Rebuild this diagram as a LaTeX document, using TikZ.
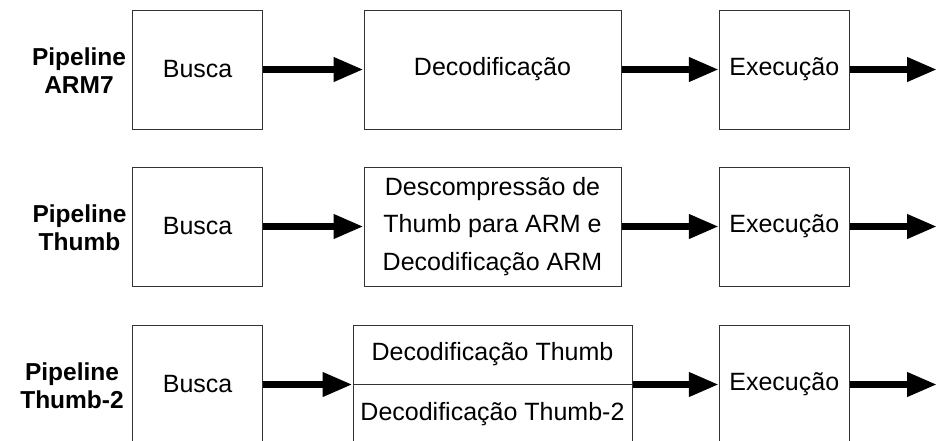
\documentclass[tikz,border=0pt]{standalone}
\usepackage{fontspec}
\setmainfont{Liberation Sans}
\usetikzlibrary{arrows.meta}

\begin{document}
\begin{tikzpicture}[x=1pt,y=-1pt,
    stage/.style={draw=black!80,line width=1pt,inner sep=0pt,minimum height=119pt,align=center,font=\fontsize{25}{37.5}\selectfont},
    pipename/.style={align=center,inner sep=0pt,font=\bfseries\fontsize{24.5}{28}\selectfont},
    stagetext/.style={inner sep=0pt,font=\fontsize{25}{30}\selectfont},
    flow/.style={line width=7pt,-{Triangle[length=30pt,width=23pt]}}]
                \useasboundingbox (0,0) rectangle (938,440);
                \node[pipename] (p1) at (79,71) {Pipeline\\ARM7};
                \node[stage,minimum width=130pt] (busca1) at (197.6,69.5) {Busca};
                \node[stage,minimum width=257pt] (dec1) at (492.5,69.5) {Decodificação};
                \node[stage,minimum width=130pt] (exec1) at (784.3,69.5) {Execução};
                \coordinate (out1) at (937,69.5);
                \draw[flow] (busca1) -- (dec1);
                \draw[flow] (dec1) -- (exec1);
                \draw[flow] (exec1) -- (out1);
                \node[pipename] (p2) at (79.5,228) {Pipeline\\Thumb};
                \node[stage,minimum width=130pt] (busca2) at (197.6,226.5) {Busca};
                \node[stage,minimum width=257pt] (dec2) at (492.5,226.5) {Descompressão de\\Thumb para ARM e\\Decodificação ARM};
                \node[stage,minimum width=130pt] (exec2) at (784.3,226.5) {Execução};
                \coordinate (out2) at (937,226.5);
                \draw[flow] (busca2) -- (dec2);
                \draw[flow] (dec2) -- (exec2);
                \draw[flow] (exec2) -- (out2);
                \node[pipename] (p3) at (72,386) {Pipeline\\Thumb-2};
                \node[stage,minimum width=130pt] (busca3) at (197.6,384.5) {Busca};
                \node[stage,minimum width=279pt] (dec3) at (492.5,384.5) {};
                \draw[black!80,line width=1pt] (dec3.west) -- (dec3.east);
                \node[stagetext] (dec3a) at (492.5,354.5) {Decodificação Thumb};
                \node[stagetext] (dec3b) at (492.5,414) {Decodificação Thumb-2};
                \node[stage,minimum width=130pt] (exec3) at (784.3,384.5) {Execução};
                \coordinate (out3) at (937,384.5);
                \draw[flow] (busca3) -- (dec3);
                \draw[flow] (dec3) -- (exec3);
                \draw[flow] (exec3) -- (out3);
            \end{tikzpicture}
\end{document}
